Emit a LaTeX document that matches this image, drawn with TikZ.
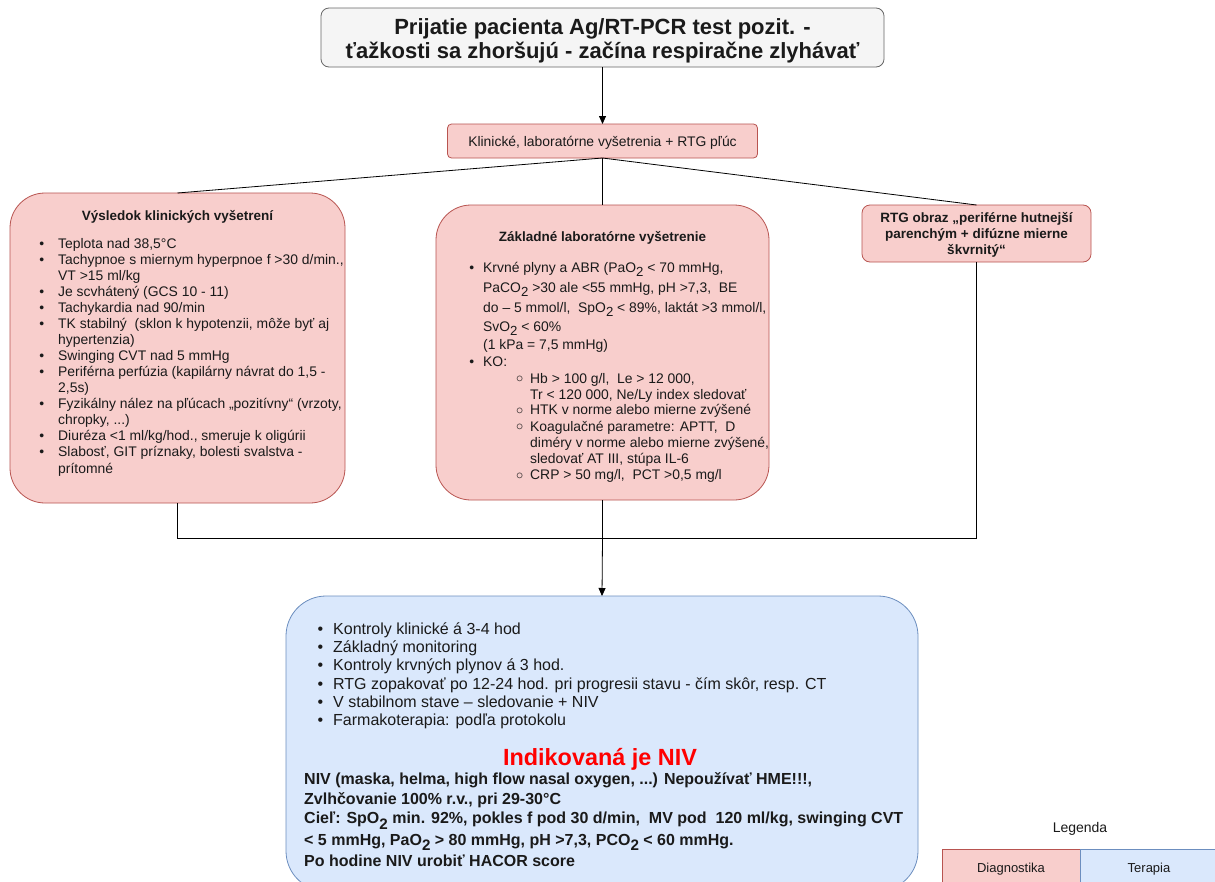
\documentclass[tikz,border=0pt]{standalone}
\usepackage{fontspec}
\setmainfont{Liberation Sans}
\usetikzlibrary{arrows.meta}
\definecolor{pinkfill}{HTML}{F8CECC}
\definecolor{pinkdraw}{HTML}{B85450}
\definecolor{bluefill}{HTML}{DAE8FC}
\definecolor{bluedraw}{HTML}{6C8EBF}
\definecolor{grayfill}{HTML}{F5F5F5}
\definecolor{graydraw}{HTML}{666666}
\definecolor{txtcol}{HTML}{1A1A1A}
\newcommand\lowtwo{\raisebox{-0.35em}{\scalebox{0.95}{2}}}
\newcommand\bulA{\llap{\textbullet\hspace{14pt}}}
\newcommand\bulB{\llap{\textbullet\hspace{9pt}}}
\newcommand\bulC{\llap{\raisebox{0.02em}{$\circ$}\hspace{7pt}}}
\newcommand\bulD{\llap{\textbullet\hspace{10pt}}}
\begin{document}
\begin{tikzpicture}[x=1pt,y=-1pt,
  box/.style={draw, line width=0.8pt, inner sep=0pt, outer sep=0pt},
  pinkbox/.style={box, fill=pinkfill, draw=pinkdraw},
  bluebox/.style={box, fill=bluefill, draw=bluedraw},
  graybox/.style={box, fill=grayfill, draw=graydraw},
  conn/.style={line width=0.8pt, draw=black},
  arr/.style={conn, -{Triangle[length=8pt,width=7pt]}},
  lt/.style={anchor=base west, inner sep=0pt, text=txtcol, font=\fontsize{13.9}{16}\selectfont},
  ct/.style={anchor=base, inner sep=0pt, text=txtcol, font=\fontsize{13.5}{16}\selectfont},
  ctb/.style={ct, font=\fontsize{13.5}{16}\selectfont\bfseries},
  bt/.style={anchor=base west, inner sep=0pt, text=txtcol, font=\fontsize{16}{18}\selectfont},
  bb/.style={anchor=base west, inner sep=0pt, text=txtcol, font=\fontsize{16}{18}\selectfont\bfseries},
  ttl/.style={anchor=base, inner sep=0pt, text=txtcol, font=\fontsize{22}{24}\selectfont\bfseries},
]
\clip (0,0) rectangle (1215,881);
\fill[white] (0,0) rectangle (1215,881);

% boxes
\node[graybox, rounded corners=8pt, minimum width=563pt, minimum height=59pt] (top) at (602.5,37.5) {};
\node[pinkbox, rounded corners=4pt, minimum width=310pt, minimum height=34pt] (klin) at (602.5,141) {};
\node[pinkbox, rounded corners=35pt, minimum width=335pt, minimum height=310pt] (left) at (177.5,348) {};
\node[pinkbox, rounded corners=35pt, minimum width=333pt, minimum height=295pt] (mid) at (602.5,352.5) {};
\node[pinkbox, rounded corners=8pt, minimum width=229pt, minimum height=57pt] (right) at (976.5,233.5) {};
\node[bluebox, rounded corners=40pt, minimum width=632pt, minimum height=295pt] (bot) at (602,743.5) {};
\node[pinkbox, minimum width=138pt, minimum height=46pt] (leg1) at (1011,872) {};
\node[bluebox, minimum width=138pt, minimum height=46pt] (leg2) at (1149,872) {};

% connectors
\draw[arr] (top.south) -- (klin.north);
\draw[conn] (klin.south) -- (left.north);
\draw[conn] (klin.south) -- (mid.north);
\draw[conn] (klin.south) -- (right.north);
\coordinate (jl) at (177.5,538);
\coordinate (jm) at (602.5,538);
\coordinate (jr) at (976.5,538);
\draw[conn] (left.south) -- (jl) -- (jr) -- (right.south);
\draw[conn] (mid.south) -- (jm);
\draw[arr] (jm) -- (bot.north);

% title
\node[ttl] (t1) at (602.5,34.5) {Prijatie pacienta Ag/RT-PCR test pozit. -};
\node[ttl] (t2) at (602.5,58) {ťažkosti sa zhoršujú - začína respiračne zlyhávať};

\node[ct, font=\fontsize{13.9}{16}\selectfont] (kt) at (602.5,146) {Klinické, laboratórne vyšetrenia + RTG pľúc};

% left box
\node[ctb] (lh) at (177.5,220) {Výsledok klinických vyšetrení};
\node[lt] (l1) at (58,248) {\bulA Teplota nad 38,5°C};
\node[lt] (l2) at (58,264.1) {\bulA Tachypnoe s miernym hyperpnoe f >30 d/min.,};
\node[lt] (l3) at (58,280.1) {VT >15 ml/kg};
\node[lt] (l4) at (58,296.2) {\bulA Je scvhátený (GCS 10 - 11)};
\node[lt] (l5) at (58,312.3) {\bulA Tachykardia nad 90/min};
\node[lt] (l6) at (58,328.4) {\bulA TK stabilný\ \ (sklon k hypotenzii, môže byť aj};
\node[lt] (l7) at (58,344.4) {hypertenzia)};
\node[lt] (l8) at (58,360.5) {\bulA Swinging CVT nad 5 mmHg};
\node[lt] (l9) at (58,376.6) {\bulA Periférna perfúzia (kapilárny návrat do 1,5 -};
\node[lt] (l10) at (58,392.6) {2,5s)};
\node[lt] (l11) at (58,408.7) {\bulA Fyzikálny nález na pľúcach „pozitívny“ (vrzoty,};
\node[lt] (l12) at (58,424.8) {chropky, ...)};
\node[lt] (l13) at (58,440.8) {\bulA Diuréza <1 ml/kg/hod., smeruje k oligúrii};
\node[lt] (l14) at (58,456.9) {\bulA Slabosť, GIT príznaky, bolesti svalstva -};
\node[lt] (l15) at (58,473) {prítomné};

% middle box
\node[ctb] (mh) at (602.5,241) {Základné laboratórne vyšetrenie};
\node[lt] (m1) at (483,272) {\bulB Krvné plyny a ABR (PaO\lowtwo\ < 70 mmHg,};
\node[lt] (m2) at (483,292) {PaCO\lowtwo\ >30 ale <55 mmHg, pH >7,3,\ \ BE};
\node[lt] (m3) at (483,312) {do – 5 mmol/l,\ \ SpO\lowtwo\ < 89\%, laktát >3 mmol/l,};
\node[lt] (m4) at (483,331) {SvO\lowtwo\ < 60\%};
\node[lt] (m5) at (483,349) {(1 kPa = 7,5 mmHg)};
\node[lt] (m6) at (483,366) {\bulB KO:};
\node[lt] (m7) at (530,383) {\bulC Hb > 100 g/l,\ \ Le > 12 000,};
\node[lt] (m8) at (530,399) {Tr < 120 000, Ne/Ly index sledovať};
\node[lt] (m9) at (530,414.5) {\bulC HTK v norme alebo mierne zvýšené};
\node[lt] (m10) at (530,431) {\bulC Koagulačné parametre: APTT,\ \ D};
\node[lt] (m11) at (530,447) {diméry v norme alebo mierne zvýšené,};
\node[lt] (m12) at (530,463) {sledovať AT III, stúpa IL-6};
\node[lt] (m13) at (530,479.5) {\bulC CRP > 50 mg/l,\ \ PCT >0,5 mg/l};

% right box
\node[ctb] (r1) at (976.5,222) {RTG obraz „periférne hutnejší};
\node[ctb] (r2) at (976.5,238) {parenchým + difúzne mierne};
\node[ctb] (r3) at (976.5,254) {škvrnitý“};

% bottom box
\node[bt] (b1) at (333,634.5) {\bulD Kontroly klinické á 3-4 hod};
\node[bt] (b2) at (333,652.7) {\bulD Základný monitoring};
\node[bt] (b3) at (333,670.9) {\bulD Kontroly krvných plynov á 3 hod.};
\node[bt] (b4) at (333,689.1) {\bulD RTG zopakovať po 12-24 hod. pri progresii stavu - čím skôr, resp. CT};
\node[bt] (b5) at (333,707.3) {\bulD V stabilnom stave – sledovanie + NIV};
\node[bt] (b6) at (333,725.5) {\bulD Farmakoterapia: podľa protokolu};
\node[anchor=base, inner sep=0pt, text=red, font=\fontsize{23.4}{26}\selectfont\bfseries] (niv) at (600,765) {Indikovaná je NIV};
\node[bb] (c1) at (304,784) {NIV (maska, helma, high flow nasal oxygen, ...) Nepoužívať HME!!!,};
\node[bb] (c2) at (304,804) {Zvlhčovanie 100\% r.v., pri 29-30°C};
\node[bb] (c3) at (304,823.5) {Cieľ: SpO\lowtwo\ min. 92\%, pokles f pod 30 d/min,\ \ MV pod\ \ 120 ml/kg, swinging CVT};
\node[bb] (c4) at (304,845) {< 5 mmHg, PaO\lowtwo\ > 80 mmHg, pH >7,3, PCO\lowtwo\ < 60 mmHg.};
\node[bb] (c5) at (304,866) {Po hodine NIV urobiť HACOR score};

% legend
\node[ct, font=\fontsize{14}{16}\selectfont] (legt) at (1080,832) {Legenda};
\node[ct, font=\fontsize{13}{16}\selectfont] (legd) at (1011,872) {Diagnostika};
\node[ct, font=\fontsize{13}{16}\selectfont] (legtp) at (1149,872) {Terapia};
\end{tikzpicture}
\end{document}
